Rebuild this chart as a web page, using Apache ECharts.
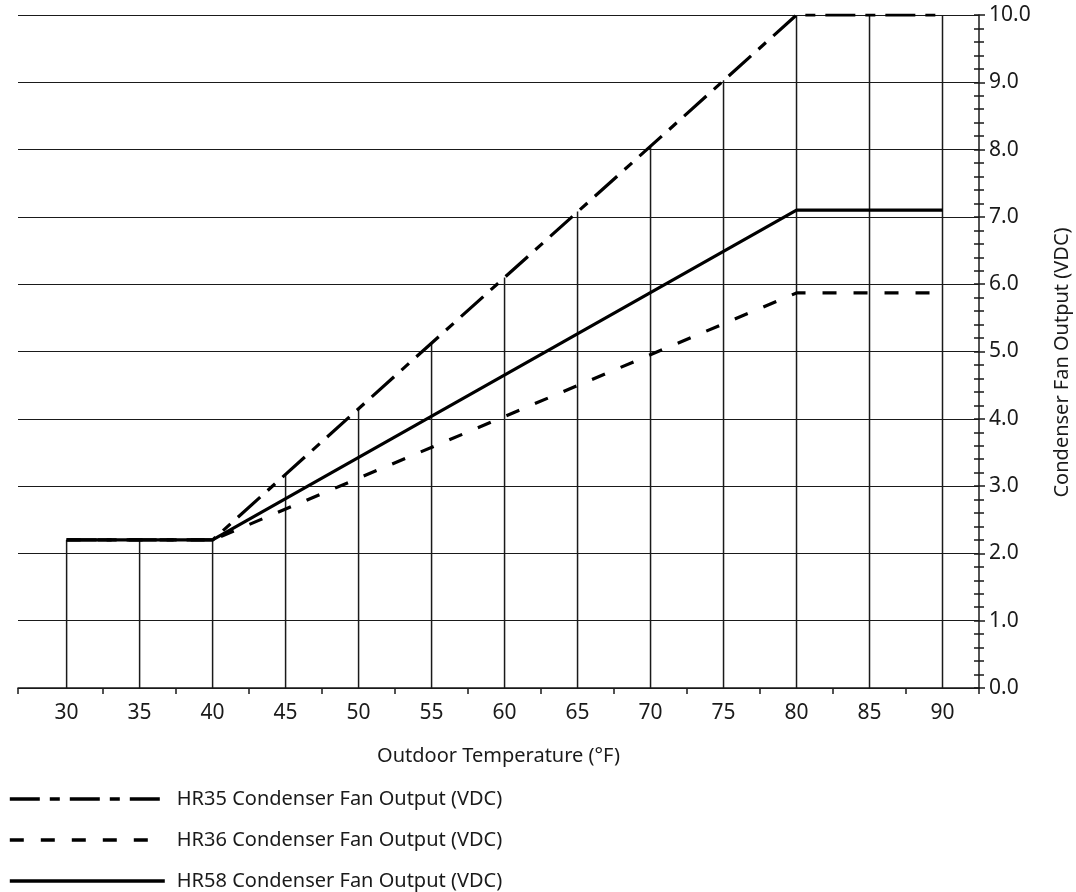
<!DOCTYPE html>
<html>
<head>
<meta charset="utf-8">
<script src="https://cdn.jsdelivr.net/npm/echarts@6/dist/echarts.min.js"></script>
<style>
  html, body { margin: 0; padding: 0; background: #fff; }
  #chart { width: 1076px; height: 892px; }
</style>
</head>
<body>
<div id="chart"></div>
<script>
// 数据
const temps = [30, 35, 40, 45, 50, 55, 60, 65, 70, 75, 80, 85, 90];
const hr35 = [[30, 2.2], [40, 2.2], [80, 10.0], [90, 10.0]];
const hr36 = [[30, 2.2], [40, 2.2], [80, 5.87], [90, 5.87]];
const hr58 = [[30, 2.2], [40, 2.2], [80, 7.1], [90, 7.1]];
// 竖线高度（到HR35曲线为止）
const dropTops = [2.2, 2.2, 2.2, 3.18, 4.15, 5.13, 6.1, 7.08, 8.05, 9.03, 10.0, 10.0, 10.0];
const xLabelValues = [30, 35, 40, 45, 50, 55, 60, 65, 70, 75, 80, 85, 90];
const xTickValues = [26.67, 32.5, 37.5, 42.5, 47.5, 52.5, 57.5, 62.5, 67.5, 72.5, 77.5, 82.5, 87.5, 92.5];

const FONT = '"Noto Sans", sans-serif';
const INK = '#1a1a1a';
const X_MIN = 26.67, X_MAX = 92.5;

const chart = echarts.init(document.getElementById('chart'));

const baseX = {
  type: 'value',
  min: X_MIN,
  max: X_MAX,
  splitLine: { show: false }
};
const baseY = {
  type: 'value',
  min: 0,
  max: 10,
  interval: 1,
  position: 'right'
};

const option = {
  animation: false,
  backgroundColor: '#fff',
  textStyle: { fontFamily: FONT },
  grid: { left: 18, right: 97, top: 15, bottom: 204, containLabel: false, outerBoundsMode: 'none' },
  legend: {
    orient: 'vertical',
    left: 8,
    bottom: 1,
    padding: 0,
    itemWidth: 155,
    itemHeight: 14,
    itemGap: 21,
    itemStyle: { opacity: 0 },
    lineStyle: { width: 3.6 },
    textStyle: { fontFamily: FONT, fontSize: 20, lineHeight: 20, color: INK, padding: [0, 0, 0, 7] },
    data: ['HR35 Condenser Fan Output (VDC)', 'HR36 Condenser Fan Output (VDC)', 'HR58 Condenser Fan Output (VDC)']
  },
  xAxis: [
    Object.assign({}, baseX, {
      name: 'Outdoor Temperature (°F)',
      nameLocation: 'middle',
      nameGap: 58,
      nameTextStyle: { fontFamily: FONT, fontSize: 20, color: INK },
      axisLine: { show: true, lineStyle: { color: INK, width: 1.5 } },
      axisTick: { show: true, length: 6, customValues: xTickValues, lineStyle: { color: INK, width: 1.5 } },
      axisLabel: { show: true, customValues: xLabelValues, margin: 15, fontSize: 21, color: INK, fontFamily: FONT }
    }),
    Object.assign({}, baseX, {
      axisLine: { show: false },
      axisTick: { show: true, inside: true, length: 5, customValues: xTickValues, lineStyle: { color: INK, width: 1.5 } },
      axisLabel: { show: false }
    })
  ],
  yAxis: [
    Object.assign({}, baseY, {
      name: 'Condenser Fan Output (VDC)',
      nameLocation: 'middle',
      nameRotate: 90,
      nameGap: 73,
      nameTextStyle: { fontFamily: FONT, fontSize: 20, color: INK, padding: [0, 22, 0, 0] },
      axisLine: { show: true, lineStyle: { color: INK, width: 1.5 } },
      axisTick: { show: true, length: 6, lineStyle: { color: INK, width: 1.5 } },
      minorTick: { show: true, splitNumber: 5, length: 5, lineStyle: { color: INK, width: 1.5 } },
      axisLabel: { margin: 10, fontSize: 21, color: INK, fontFamily: FONT, formatter: v => v.toFixed(1) },
      splitLine: { show: true, lineStyle: { color: INK, width: 1.2 } }
    }),
    Object.assign({}, baseY, {
      axisLine: { show: false },
      axisTick: { show: true, inside: true, length: 5, lineStyle: { color: INK, width: 1.5 } },
      minorTick: { show: true, splitNumber: 5, length: 5, lineStyle: { color: INK, width: 1.5 } },
      axisLabel: { show: false },
      splitLine: { show: false }
    })
  ],
  series: [
    {
      name: 'drop',
      type: 'bar',
      barWidth: 1.5,
      z: 1,
      silent: true,
      itemStyle: { color: INK },
      data: temps.map((t, i) => [t, dropTops[i]])
    },
    {
      name: 'HR35 Condenser Fan Output (VDC)',
      type: 'line',
      symbol: 'none',
      z: 3,
      lineStyle: { color: '#000', width: 3.2, type: [30, 10, 10, 10], cap: 'butt' },
      itemStyle: { color: '#000' },
      data: hr35
    },
    {
      name: 'HR36 Condenser Fan Output (VDC)',
      type: 'line',
      symbol: 'none',
      z: 3,
      lineStyle: { color: '#000', width: 3.2, type: [14, 17], cap: 'butt' },
      itemStyle: { color: '#000' },
      data: hr36
    },
    {
      name: 'HR58 Condenser Fan Output (VDC)',
      type: 'line',
      symbol: 'none',
      z: 3,
      lineStyle: { color: '#000', width: 3.2 },
      itemStyle: { color: '#000' },
      data: hr58
    }
  ]
};

chart.setOption(option);
</script>
</body>
</html>
